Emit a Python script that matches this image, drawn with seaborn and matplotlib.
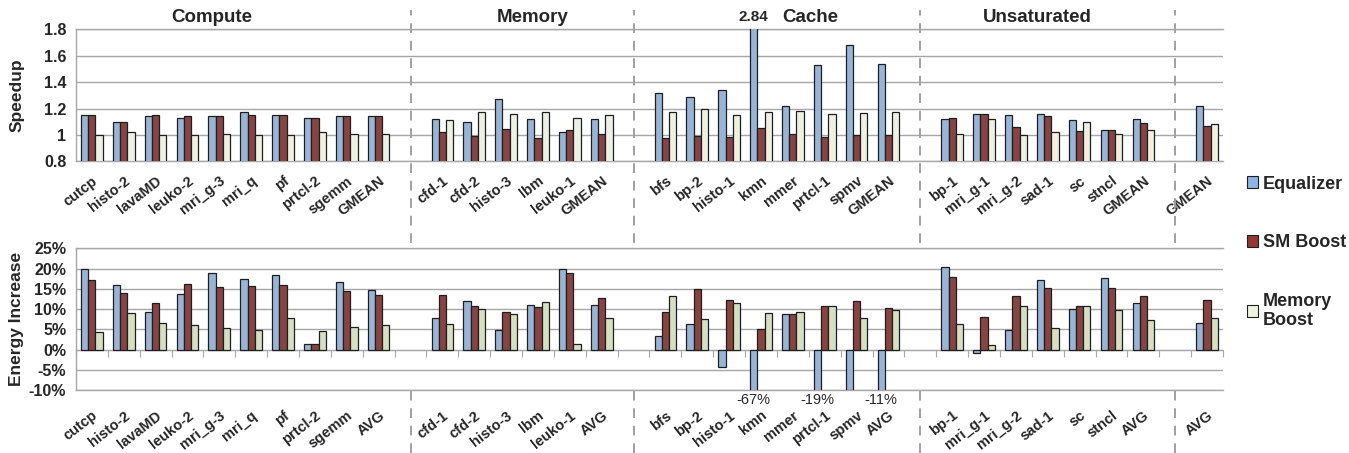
import numpy as np
import pandas as pd
import matplotlib
matplotlib.use("Agg")
import matplotlib.pyplot as plt
import matplotlib.transforms as mtransforms
from matplotlib.patches import Patch
from matplotlib.ticker import FuncFormatter
import seaborn as sns

# ---------------- data ----------------
group_titles = ["Compute", "Memory", "Cache", "Unsaturated"]
compute_names = ["cutcp", "histo-2", "lavaMD", "leuko-2", "mri_g-3", "mri_q", "pf", "prtcl-2", "sgemm"]
memory_names = ["cfd-1", "cfd-2", "histo-3", "lbm", "leuko-1"]
cache_names = ["bfs", "bp-2", "histo-1", "kmn", "mmer", "prtcl-1", "spmv"]
unsat_names = ["bp-1", "mri_g-1", "mri_g-2", "sad-1", "sc", "stncl"]
series = ["Equalizer", "SM Boost", "Memory Boost"]

# speedup, per group (last entry of each group = GMEAN), then overall GMEAN
speedup_eq = [1.15, 1.10, 1.14, 1.13, 1.14, 1.17, 1.15, 1.13, 1.14, 1.14,
              1.12, 1.10, 1.27, 1.12, 1.02, 1.12,
              1.32, 1.29, 1.34, 2.84, 1.22, 1.53, 1.68, 1.54,
              1.12, 1.16, 1.15, 1.16, 1.11, 1.04, 1.12,
              1.22]
speedup_sm = [1.15, 1.10, 1.15, 1.14, 1.14, 1.15, 1.15, 1.13, 1.14, 1.14,
              1.02, 0.99, 1.045, 0.98, 1.04, 1.01,
              0.98, 0.99, 0.985, 1.05, 1.01, 0.985, 1.00, 1.00,
              1.13, 1.16, 1.06, 1.14, 1.03, 1.04, 1.09,
              1.07]
speedup_mem = [1.00, 1.02, 1.00, 1.00, 1.01, 1.00, 1.00, 1.02, 1.01, 1.01,
               1.11, 1.17, 1.155, 1.17, 1.13, 1.15,
               1.17, 1.20, 1.15, 1.17, 1.18, 1.16, 1.165, 1.17,
               1.01, 1.12, 1.00, 1.02, 1.10, 1.01, 1.04,
               1.08]

# energy increase (%), same layout (last entry of each group = AVG)
energy_eq = [19.9, 16.0, 9.4, 13.8, 18.8, 17.4, 18.5, 1.4, 16.7, 14.6,
             7.7, 12.1, 4.8, 11.0, 20.0, 11.1,
             3.5, 6.3, -4.3, -67, 8.8, -19, -10, -11,
             20.3, -0.9, 4.8, 17.1, 10.1, 17.7, 11.5,
             6.7]
energy_sm = [17.1, 13.9, 11.4, 16.2, 15.4, 15.6, 15.9, 1.4, 14.4, 13.6,
             13.4, 10.9, 9.4, 10.6, 18.8, 12.7,
             9.3, 15.0, 12.3, 5.2, 8.8, 10.7, 12.1, 10.4,
             17.9, 8.1, 13.2, 15.2, 10.8, 15.1, 13.3,
             12.2]
energy_mem = [4.4, 9.1, 6.6, 6.2, 5.4, 4.8, 7.9, 4.7, 5.5, 6.1,
              6.4, 10.0, 8.8, 11.8, 1.4, 7.7,
              13.3, 7.6, 11.6, 9.0, 9.4, 10.7, 7.9, 9.9,
              6.3, 1.2, 10.8, 5.3, 10.7, 9.7, 7.4,
              7.7]

# ---------------- layout of category slots ----------------
group_members = [compute_names, memory_names, cache_names, unsat_names, []]
keys, top_labels, bottom_labels, order = [], [], [], []
gap_keys = []
for gi, names in enumerate(group_members):
    if gi > 0:
        gk = f"gap{gi}"
        order.append(gk)
        gap_keys.append(gk)
        top_labels.append("")
        bottom_labels.append("")
    for n in names + ["MEAN"]:
        k = f"g{gi}:{n}"
        keys.append(k)
        order.append(k)
        top_labels.append("GMEAN" if n == "MEAN" else n)
        bottom_labels.append("AVG" if n == "MEAN" else n)

nk = len(keys)
df_speed = pd.DataFrame({"key": keys * 3, "series": np.repeat(series, nk),
                         "value": speedup_eq + speedup_sm + speedup_mem})
df_energy = pd.DataFrame({"key": keys * 3, "series": np.repeat(series, nk),
                          "value": energy_eq + energy_sm + energy_mem})

# ---------------- style ----------------
sns.set_style("white")
plt.rcParams["font.family"] = ["Liberation Sans", "DejaVu Sans"]
plt.rcParams["font.weight"] = "bold"

grid_c = "#A6A6A6"
edge_c = "#1E1E1E"
top_pal = {"Equalizer": "#8DB4E2", "SM Boost": "#953735", "Memory Boost": "#EEF3E2"}
bot_pal = {"Equalizer": "#8DB4E2", "SM Boost": "#953735", "Memory Boost": "#D7E4BD"}
bar_w = 0.68

fig = plt.figure(figsize=(13.49, 4.53), dpi=100)
ax1 = fig.add_axes([0.0563, 0.6439, 0.8503, 0.2914])
ax2 = fig.add_axes([0.0563, 0.1384, 0.8503, 0.3135])

nslots = len(order)
for ax, df, pal, labels, pad in [(ax1, df_speed, top_pal, top_labels, 9),
                                 (ax2, df_energy, bot_pal, bottom_labels, 13)]:
    sns.barplot(data=df, x="key", y="value", hue="series", order=order,
                hue_order=series, palette=pal, width=bar_w, edgecolor=edge_c,
                linewidth=0.9, errorbar=None, legend=False, ax=ax, zorder=3)
    ax.set_xlim(-0.5, nslots - 0.5)
    ax.set_xticks(np.arange(nslots), labels=labels)
    ax.tick_params(axis="x", which="major", length=0, pad=pad, labelsize=10.5)
    for lab in ax.get_xticklabels():
        lab.set_rotation(38)
        lab.set_ha("right")
        lab.set_va("top")
        lab.set_rotation_mode("anchor")
        lab.set_fontweight("bold")
    ax.grid(axis="y", color=grid_c, lw=1)
    ax.set_axisbelow(True)
    ax.set_xlabel("")
    ax.tick_params(axis="y", length=4, color=grid_c, labelsize=11.5, pad=3)
    for lab in ax.get_yticklabels():
        lab.set_fontweight("bold")
    ax.spines["right"].set_visible(False)
    for s in ["left", "top", "bottom"]:
        ax.spines[s].set_color(grid_c)
        ax.spines[s].set_linewidth(1)

# top: speedup
ax1.set_ylim(0.8, 1.8)
ax1.set_yticks(np.arange(0.8, 1.81, 0.2))
ax1.yaxis.set_major_formatter(FuncFormatter(lambda v, p: "1" if abs(v - 1) < 1e-9 else f"{v:.1f}"))
ax1.set_xticks(np.arange(nslots + 1) - 0.5, minor=True)
ax1.tick_params(axis="x", which="minor", length=5, color=grid_c, direction="out")
ax1.set_ylabel("Speedup", fontsize=12.5, fontweight="bold")
ax1.yaxis.set_label_coords(-0.045, 0.5)

# bottom: energy
ax2.set_ylim(-10, 25)
ax2.set_yticks(np.arange(-10, 26, 5))
ax2.yaxis.set_major_formatter(FuncFormatter(lambda v, p: f"{v:.0f}%"))
ax2.set_ylabel("Energy Increase", fontsize=12.5, fontweight="bold")
ax2.yaxis.set_label_coords(-0.045, 0.5)
sec = ax2.secondary_xaxis(10 / 35)
sec.set_xticks(np.arange(nslots + 1) - 0.5)
sec.tick_params(axis="x", length=5, color=grid_c, labelbottom=False, labeltop=False)
for s in sec.spines.values():
    s.set_color(grid_c)
sec.spines["top"].set_visible(False)

# values beyond the axis range
for i, k in enumerate(keys):
    xpos = order.index(k) - bar_w / 3
    if speedup_eq[i] > 1.8:
        ax1.annotate(f"{speedup_eq[i]:.2f}", xy=(xpos, 1.8), xytext=(0, 4),
                     textcoords="offset points", ha="center", va="bottom",
                     fontsize=11, fontweight="bold")
    if energy_eq[i] < -10:
        ax2.annotate(f"{energy_eq[i]:.0f}%", xy=(xpos, -10), xytext=(0, -2),
                     textcoords="offset points", ha="center", va="top",
                     fontsize=10.5, fontweight="normal")

# dashed separators through both rows
trans = mtransforms.blended_transform_factory(ax1.transData, fig.transFigure)
for gk in gap_keys:
    xg = order.index(gk)
    ax1.plot([xg, xg], [0.0, 0.978], transform=trans, clip_on=False,
             color="#A0A0A0", lw=1.4, ls=(0, (5, 4)), zorder=1)

# group titles
for title, xf in zip(group_titles, [0.157, 0.395, 0.601, 0.769]):
    fig.text(xf, 0.962, title, ha="center", va="center", fontsize=13.5, fontweight="bold")

# legend
handles = [Patch(facecolor=top_pal[s], edgecolor=edge_c, lw=0.8) for s in series]
fig.legend(handles, ["Equalizer", "SM Boost", "Memory\nBoost"], loc="upper left",
           bbox_to_anchor=(0.912, 0.648), frameon=False,
           handlelength=0.65, handleheight=0.65, handletextpad=0.25,
           labelspacing=2.3, prop={"weight": "bold", "size": 13})

fig.savefig("out.png", dpi=100)
